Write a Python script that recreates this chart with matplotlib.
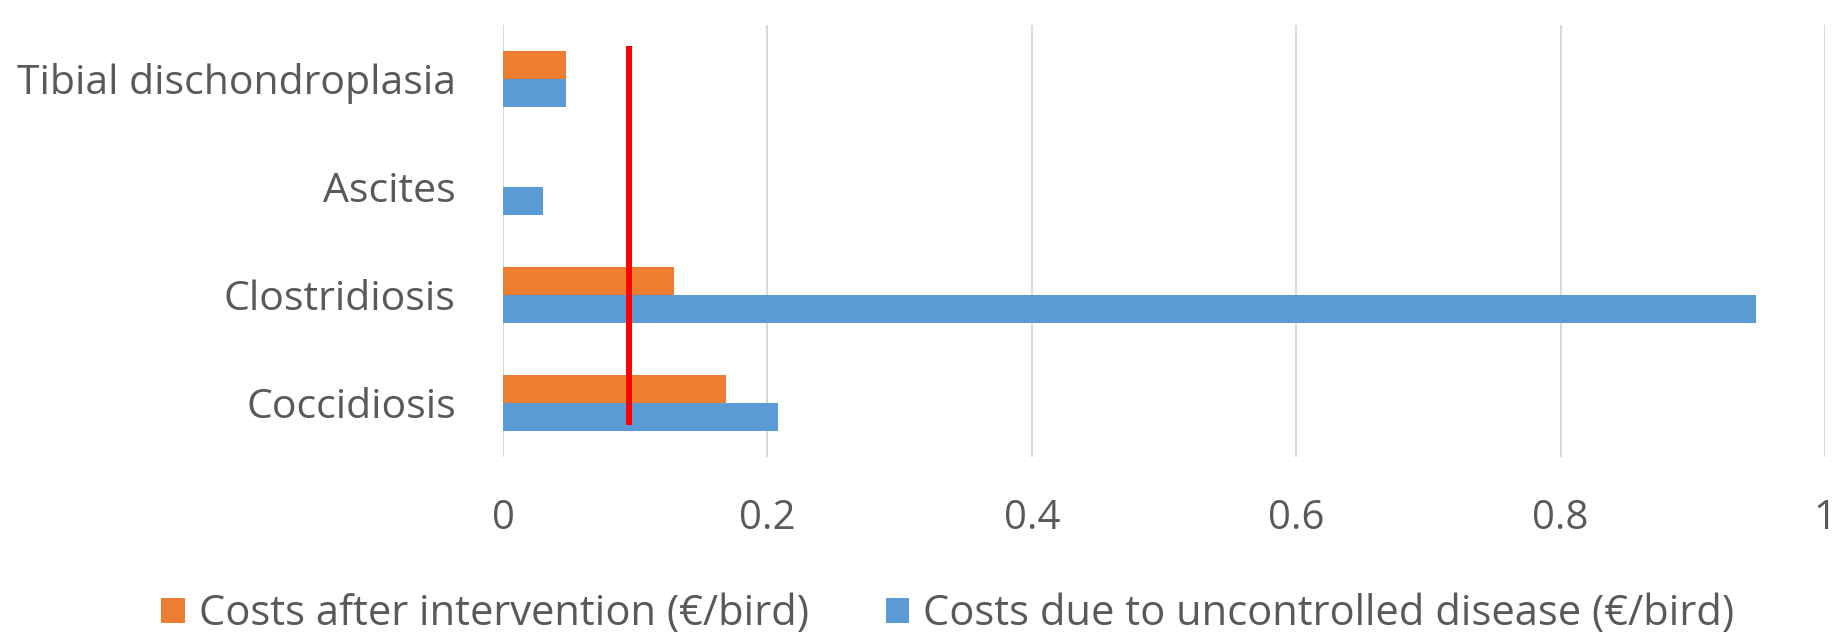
import numpy as np
import matplotlib.pyplot as plt

plt.rcParams['font.family'] = ['Open Sans', 'DejaVu Sans']

# categories listed bottom to top
diseases = ['Coccidiosis', 'Clostridiosis', 'Ascites', 'Tibial dischondroplasia']
cost_after = [0.169, 0.129, 0.0, 0.048]
cost_uncontrolled = [0.208, 0.948, 0.030, 0.048]
x_ticks = [0, 0.2, 0.4, 0.6, 0.8, 1]
x_tick_labels = ['0', '0.2', '0.4', '0.6', '0.8', '1']
threshold = 0.095

grey_txt = '#595959'
orange = '#ED7D31'
blue = '#5B9BD5'

fig = plt.figure(figsize=(18.43, 6.4), dpi=100)
ax1 = fig.add_axes([503/1843, 1-457/640, (1825-503)/1843, (457-25)/640])

y = np.arange(len(diseases))
h = 0.256
ax1.barh(y + h/2, cost_after, height=h, color=orange, label='Costs after intervention (€/bird)', zorder=3)
ax1.barh(y - h/2, cost_uncontrolled, height=h, color=blue, label='Costs due to uncontrolled disease (€/bird)', zorder=3)

# red reference line
ax1.vlines(threshold, -0.2, 3.31, color='#FF0000', linewidth=4.3, zorder=4)

ax1.set_xlim(0, 1)
ax1.set_ylim(-0.5, 3.5)
ax1.set_xticks(x_ticks)
ax1.set_xticklabels(x_tick_labels)
ax1.set_yticks(y)
ax1.set_yticklabels(diseases)
ax1.tick_params(axis='x', length=0, pad=30, labelsize=29, labelcolor=grey_txt)
ax1.tick_params(axis='y', length=0, pad=34, labelsize=29.5, labelcolor=grey_txt)
ax1.grid(axis='x', color='#D9D9D9', linewidth=1.5, zorder=0)
for s in ax1.spines.values():
    s.set_visible(False)

handles, labels = ax1.get_legend_handles_labels()
fig.legend(handles, labels, loc='center', bbox_to_anchor=(948/1843, 1-614/640), ncol=2,
           frameon=False, fontsize=30, labelcolor=grey_txt, handlelength=0.56, handleheight=0.56,
           handletextpad=0.34, columnspacing=1.85, borderpad=0, borderaxespad=0)

plt.savefig('out.png', dpi=100)
